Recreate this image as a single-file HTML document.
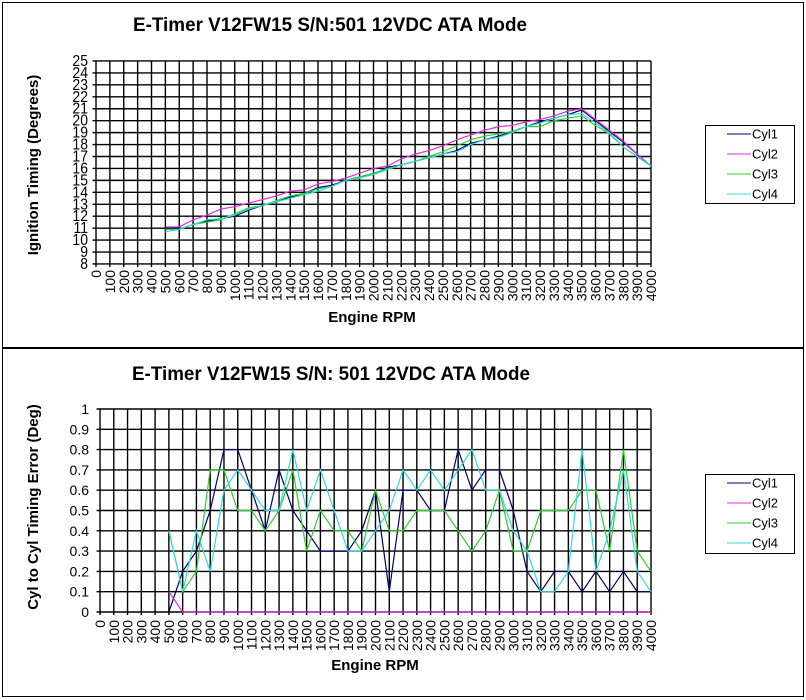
<!DOCTYPE html>
<html><head><meta charset="utf-8"><style>
html,body{margin:0;padding:0;background:#fff}
svg{display:block}
text{font-family:"Liberation Sans",Arial,sans-serif;fill:#000}
.t{font-size:19px;font-weight:bold}
.a{font-size:15px;font-weight:bold}
.k{font-size:14px}
.l{font-size:13px}
.xl{font-size:14px}
</style></head><body>
<svg width="806" height="700" viewBox="0 0 806 700" xmlns="http://www.w3.org/2000/svg">
<rect x="0" y="0" width="806" height="700" fill="#fff"/>
<rect x="2.5" y="2.5" width="801" height="345" fill="#fff" stroke="#000"/>
<rect x="2.5" y="348.5" width="801" height="348" fill="#fff" stroke="#000"/>

<!-- TOP CHART -->
<text class="t" x="133" y="31" textLength="394" lengthAdjust="spacingAndGlyphs">E-Timer V12FW15 S/N:501 12VDC ATA Mode</text>
<g transform="matrix(0.13875 0 0 -11.941 96 359.5)" fill="none">
<path stroke="#000" stroke-width="1.4" vector-effect="non-scaling-stroke" d="M0,7.75V25M100,7.75V25M200,7.75V25M300,7.75V25M400,7.75V25M500,7.75V25M600,7.75V25M700,7.75V25M800,7.75V25M900,7.75V25M1000,7.75V25M1100,7.75V25M1200,7.75V25M1300,7.75V25M1400,7.75V25M1500,7.75V25M1600,7.75V25M1700,7.75V25M1800,7.75V25M1900,7.75V25M2000,7.75V25M2100,7.75V25M2200,7.75V25M2300,7.75V25M2400,7.75V25M2500,7.75V25M2600,7.75V25M2700,7.75V25M2800,7.75V25M2900,7.75V25M3000,7.75V25M3100,7.75V25M3200,7.75V25M3300,7.75V25M3400,7.75V25M3500,7.75V25M3600,7.75V25M3700,7.75V25M3800,7.75V25M3900,7.75V25M4000,7.75V25M-25,8H4000M-25,9H4000M-25,10H4000M-25,11H4000M-25,12H4000M-25,13H4000M-25,14H4000M-25,15H4000M-25,16H4000M-25,17H4000M-25,18H4000M-25,19H4000M-25,20H4000M-25,21H4000M-25,22H4000M-25,23H4000M-25,24H4000M-25,25H4000"/>
<polyline stroke="#000070" stroke-width="1.2" vector-effect="non-scaling-stroke" points="500,11.1 600,10.9 700,11.3 800,11.6 900,11.8 1000,12 1100,12.5 1200,12.9 1300,13.2 1400,13.6 1500,13.9 1600,14.4 1700,14.6 1800,15 1900,15.3 2000,15.5 2100,16.1 2200,16.3 2300,16.6 2400,16.9 2500,17.2 2600,17.5 2700,18.1 2800,18.4 2900,18.7 3000,19.1 3100,19.5 3200,19.9 3300,20.2 3400,20.5 3500,20.9 3600,20 3700,19.1 3800,18.2 3900,17.2 4000,16.2"/>
<polyline stroke="#e030e0" stroke-width="1.2" vector-effect="non-scaling-stroke" points="500,11.1 600,11.1 700,11.7 800,12.1 900,12.6 1000,12.8 1100,13.1 1200,13.4 1300,13.7 1400,14.1 1500,14.2 1600,14.7 1700,14.9 1800,15.2 1900,15.6 2000,16 2100,16.2 2200,16.8 2300,17.2 2400,17.5 2500,17.9 2600,18.4 2700,18.8 2800,19.2 2900,19.5 3000,19.6 3100,19.9 3200,20.1 3300,20.4 3400,20.8 3500,21 3600,20.1 3700,19.2 3800,18.3 3900,17.2 4000,16.2"/>
<polyline stroke="#30d030" stroke-width="1.2" vector-effect="non-scaling-stroke" points="500,10.9 600,10.9 700,11.3 800,11.5 900,11.7 1000,12.2 1100,12.7 1200,12.9 1300,13.3 1400,13.7 1500,13.9 1600,14.3 1700,14.5 1800,15 1900,15.3 2000,15.6 2100,16 2200,16.3 2300,16.6 2400,17 2500,17.4 2600,17.9 2700,18.4 2800,18.7 2900,18.9 3000,19.1 3100,19.5 3200,19.5 3300,20 3400,20.2 3500,20.4 3600,19.6 3700,18.9 3800,17.8 3900,17 4000,16.2"/>
<polyline stroke="#30dcdc" stroke-width="1.2" vector-effect="non-scaling-stroke" points="500,10.7 600,10.9 700,11.3 800,11.7 900,11.8 1000,12.1 1100,12.6 1200,12.9 1300,13.2 1400,13.5 1500,13.8 1600,14.1 1700,14.5 1800,15 1900,15.2 2000,15.5 2100,15.9 2200,16.3 2300,16.6 2400,16.9 2500,17.2 2600,17.4 2700,18 2800,18.4 2900,18.6 3000,19 3100,19.5 3200,19.8 3300,20.2 3400,20.5 3500,20.6 3600,19.8 3700,19 3800,17.8 3900,17 4000,16.2"/>
</g>
<g class="k" text-anchor="end">
<text x="88" y="66" transform="translate(0,-9.9) scale(1,1.15)">25</text>
<text x="88" y="77.9" transform="translate(0,-11.7) scale(1,1.15)">24</text>
<text x="88" y="89.9" transform="translate(0,-13.5) scale(1,1.15)">23</text>
<text x="88" y="101.8" transform="translate(0,-15.3) scale(1,1.15)">22</text>
<text x="88" y="113.7" transform="translate(0,-17.1) scale(1,1.15)">21</text>
<text x="88" y="125.7" transform="translate(0,-18.9) scale(1,1.15)">20</text>
<text x="88" y="137.6" transform="translate(0,-20.6) scale(1,1.15)">19</text>
<text x="88" y="149.6" transform="translate(0,-22.4) scale(1,1.15)">18</text>
<text x="88" y="161.5" transform="translate(0,-24.2) scale(1,1.15)">17</text>
<text x="88" y="173.4" transform="translate(0,-26) scale(1,1.15)">16</text>
<text x="88" y="185.4" transform="translate(0,-27.8) scale(1,1.15)">15</text>
<text x="88" y="197.3" transform="translate(0,-29.6) scale(1,1.15)">14</text>
<text x="88" y="209.3" transform="translate(0,-31.4) scale(1,1.15)">13</text>
<text x="88" y="221.2" transform="translate(0,-33.2) scale(1,1.15)">12</text>
<text x="88" y="233.1" transform="translate(0,-35) scale(1,1.15)">11</text>
<text x="88" y="245.1" transform="translate(0,-36.8) scale(1,1.15)">10</text>
<text x="88" y="257" transform="translate(0,-38.5) scale(1,1.15)">9</text>
<text x="88" y="269" transform="translate(0,-40.3) scale(1,1.15)">8</text>
</g>
<g class="xl" text-anchor="end" dominant-baseline="central" transform="rotate(-90)">
<text x="-270" y="96">0</text><text x="-270" y="109.9">100</text><text x="-270" y="123.8">200</text><text x="-270" y="137.6">300</text><text x="-270" y="151.5">400</text><text x="-270" y="165.4">500</text><text x="-270" y="179.3">600</text><text x="-270" y="193.1">700</text><text x="-270" y="207">800</text><text x="-270" y="220.9">900</text><text x="-270" y="234.8">1000</text><text x="-270" y="248.6">1100</text><text x="-270" y="262.5">1200</text><text x="-270" y="276.4">1300</text><text x="-270" y="290.3">1400</text><text x="-270" y="304.1">1500</text><text x="-270" y="318">1600</text><text x="-270" y="331.9">1700</text><text x="-270" y="345.8">1800</text><text x="-270" y="359.6">1900</text><text x="-270" y="373.5">2000</text><text x="-270" y="387.4">2100</text><text x="-270" y="401.3">2200</text><text x="-270" y="415.1">2300</text><text x="-270" y="429">2400</text><text x="-270" y="442.9">2500</text><text x="-270" y="456.8">2600</text><text x="-270" y="470.6">2700</text><text x="-270" y="484.5">2800</text><text x="-270" y="498.4">2900</text><text x="-270" y="512.3">3000</text><text x="-270" y="526.1">3100</text><text x="-270" y="540">3200</text><text x="-270" y="553.9">3300</text><text x="-270" y="567.8">3400</text><text x="-270" y="581.6">3500</text><text x="-270" y="595.5">3600</text><text x="-270" y="609.4">3700</text><text x="-270" y="623.3">3800</text><text x="-270" y="637.1">3900</text><text x="-270" y="651">4000</text>
</g>
<text class="a" x="372" y="322" text-anchor="middle">Engine RPM</text>
<text class="a" text-anchor="middle" transform="translate(38,165) rotate(-90)">Ignition Timing (Degrees)</text>
<rect x="705.5" y="125.5" width="89" height="78" fill="#fff" stroke="#000"/>
<g class="l">
<line x1="727" y1="134" x2="751" y2="134" stroke="#000070"/><text x="752" y="138.5">Cyl1</text>
<line x1="727" y1="154" x2="751" y2="154" stroke="#e030e0"/><text x="752" y="158.5">Cyl2</text>
<line x1="727" y1="174" x2="751" y2="174" stroke="#30d030"/><text x="752" y="178.5">Cyl3</text>
<line x1="727" y1="194" x2="751" y2="194" stroke="#30dcdc"/><text x="752" y="198.5">Cyl4</text>
</g>

<!-- BOTTOM CHART -->
<text class="t" x="132" y="380" textLength="398" lengthAdjust="spacingAndGlyphs">E-Timer V12FW15 S/N: 501 12VDC ATA Mode</text>
<g transform="matrix(0.13775 0 0 -203 100 612)" fill="none">
<path stroke="#000" stroke-width="1.4" vector-effect="non-scaling-stroke" d="M0,-0.015V1M100,-0.015V1M200,-0.015V1M300,-0.015V1M400,-0.015V1M500,-0.015V1M600,-0.015V1M700,-0.015V1M800,-0.015V1M900,-0.015V1M1000,-0.015V1M1100,-0.015V1M1200,-0.015V1M1300,-0.015V1M1400,-0.015V1M1500,-0.015V1M1600,-0.015V1M1700,-0.015V1M1800,-0.015V1M1900,-0.015V1M2000,-0.015V1M2100,-0.015V1M2200,-0.015V1M2300,-0.015V1M2400,-0.015V1M2500,-0.015V1M2600,-0.015V1M2700,-0.015V1M2800,-0.015V1M2900,-0.015V1M3000,-0.015V1M3100,-0.015V1M3200,-0.015V1M3300,-0.015V1M3400,-0.015V1M3500,-0.015V1M3600,-0.015V1M3700,-0.015V1M3800,-0.015V1M3900,-0.015V1M4000,-0.015V1M-25,0H4000M-25,0.1H4000M-25,0.2H4000M-25,0.3H4000M-25,0.4H4000M-25,0.5H4000M-25,0.6H4000M-25,0.7H4000M-25,0.8H4000M-25,0.9H4000M-25,1H4000"/>
<polyline stroke="#000070" stroke-width="1.2" vector-effect="non-scaling-stroke" points="500,0 600,0.2 700,0.3 800,0.5 900,0.8 1000,0.8 1100,0.6 1200,0.4 1300,0.7 1400,0.5 1500,0.4 1600,0.3 1700,0.3 1800,0.3 1900,0.4 2000,0.6 2100,0.1 2200,0.6 2300,0.6 2400,0.5 2500,0.5 2600,0.8 2700,0.6 2800,0.7 2900,0.7 3000,0.5 3100,0.2 3200,0.1 3300,0.2 3400,0.2 3500,0.1 3600,0.2 3700,0.1 3800,0.2 3900,0.1 4000,0.1"/>
<polyline stroke="#e030e0" stroke-width="1.2" vector-effect="non-scaling-stroke" points="500,0.1 600,0 4000,0"/>
<polyline stroke="#30d030" stroke-width="1.2" vector-effect="non-scaling-stroke" points="500,0.4 600,0.1 700,0.2 800,0.7 900,0.7 1000,0.5 1100,0.5 1200,0.4 1300,0.5 1400,0.7 1500,0.3 1600,0.5 1700,0.4 1800,0.4 1900,0.3 2000,0.6 2100,0.4 2200,0.4 2300,0.5 2400,0.5 2500,0.5 2600,0.4 2700,0.3 2800,0.4 2900,0.6 3000,0.3 3100,0.3 3200,0.5 3300,0.5 3400,0.5 3500,0.6 3600,0.6 3700,0.3 3800,0.8 3900,0.3 4000,0.2"/>
<polyline stroke="#30dcdc" stroke-width="1.2" vector-effect="non-scaling-stroke" points="500,0.4 600,0.1 700,0.4 800,0.2 900,0.6 1000,0.7 1100,0.6 1200,0.5 1300,0.5 1400,0.8 1500,0.5 1600,0.7 1700,0.5 1800,0.3 1900,0.3 2000,0.4 2100,0.5 2200,0.7 2300,0.6 2400,0.7 2500,0.6 2600,0.7 2700,0.8 2800,0.6 2900,0.6 3000,0.4 3100,0.3 3200,0.1 3300,0.1 3400,0.2 3500,0.8 3600,0.2 3700,0.4 3800,0.7 3900,0.2 4000,0.1"/>
</g>
<g class="k" text-anchor="end">
<text x="89" y="414">1</text><text x="89" y="434.3">0.9</text><text x="89" y="454.6">0.8</text><text x="89" y="474.9">0.7</text><text x="89" y="495.2">0.6</text><text x="89" y="515.5">0.5</text><text x="89" y="535.8">0.4</text><text x="89" y="556.1">0.3</text><text x="89" y="576.4">0.2</text><text x="89" y="596.7">0.1</text><text x="89" y="617">0</text>
</g>
<g class="xl" text-anchor="end" dominant-baseline="central" transform="rotate(-90)">
<text x="-620" y="100">0</text><text x="-620" y="113.8">100</text><text x="-620" y="127.6">200</text><text x="-620" y="141.3">300</text><text x="-620" y="155.1">400</text><text x="-620" y="168.9">500</text><text x="-620" y="182.7">600</text><text x="-620" y="196.4">700</text><text x="-620" y="210.2">800</text><text x="-620" y="224">900</text><text x="-620" y="237.8">1000</text><text x="-620" y="251.5">1100</text><text x="-620" y="265.3">1200</text><text x="-620" y="279.1">1300</text><text x="-620" y="292.9">1400</text><text x="-620" y="306.6">1500</text><text x="-620" y="320.4">1600</text><text x="-620" y="334.2">1700</text><text x="-620" y="348">1800</text><text x="-620" y="361.7">1900</text><text x="-620" y="375.5">2000</text><text x="-620" y="389.3">2100</text><text x="-620" y="403.1">2200</text><text x="-620" y="416.8">2300</text><text x="-620" y="430.6">2400</text><text x="-620" y="444.4">2500</text><text x="-620" y="458.2">2600</text><text x="-620" y="471.9">2700</text><text x="-620" y="485.7">2800</text><text x="-620" y="499.5">2900</text><text x="-620" y="513.3">3000</text><text x="-620" y="527">3100</text><text x="-620" y="540.8">3200</text><text x="-620" y="554.6">3300</text><text x="-620" y="568.4">3400</text><text x="-620" y="582.1">3500</text><text x="-620" y="595.9">3600</text><text x="-620" y="609.7">3700</text><text x="-620" y="623.5">3800</text><text x="-620" y="637.2">3900</text><text x="-620" y="651">4000</text>
</g>
<text class="a" x="375" y="670" text-anchor="middle">Engine RPM</text>
<text class="a" text-anchor="middle" transform="translate(38,507) rotate(-90)">Cyl to Cyl Timing Error (Deg)</text>
<rect x="705.5" y="474.5" width="89" height="79" fill="#fff" stroke="#000"/>
<g class="l">
<line x1="727" y1="483" x2="751" y2="483" stroke="#000070"/><text x="752" y="487.5">Cyl1</text>
<line x1="727" y1="503" x2="751" y2="503" stroke="#e030e0"/><text x="752" y="507.5">Cyl2</text>
<line x1="727" y1="523" x2="751" y2="523" stroke="#30d030"/><text x="752" y="527.5">Cyl3</text>
<line x1="727" y1="543" x2="751" y2="543" stroke="#30dcdc"/><text x="752" y="547.5">Cyl4</text>
</g>
</svg>
</body></html>
